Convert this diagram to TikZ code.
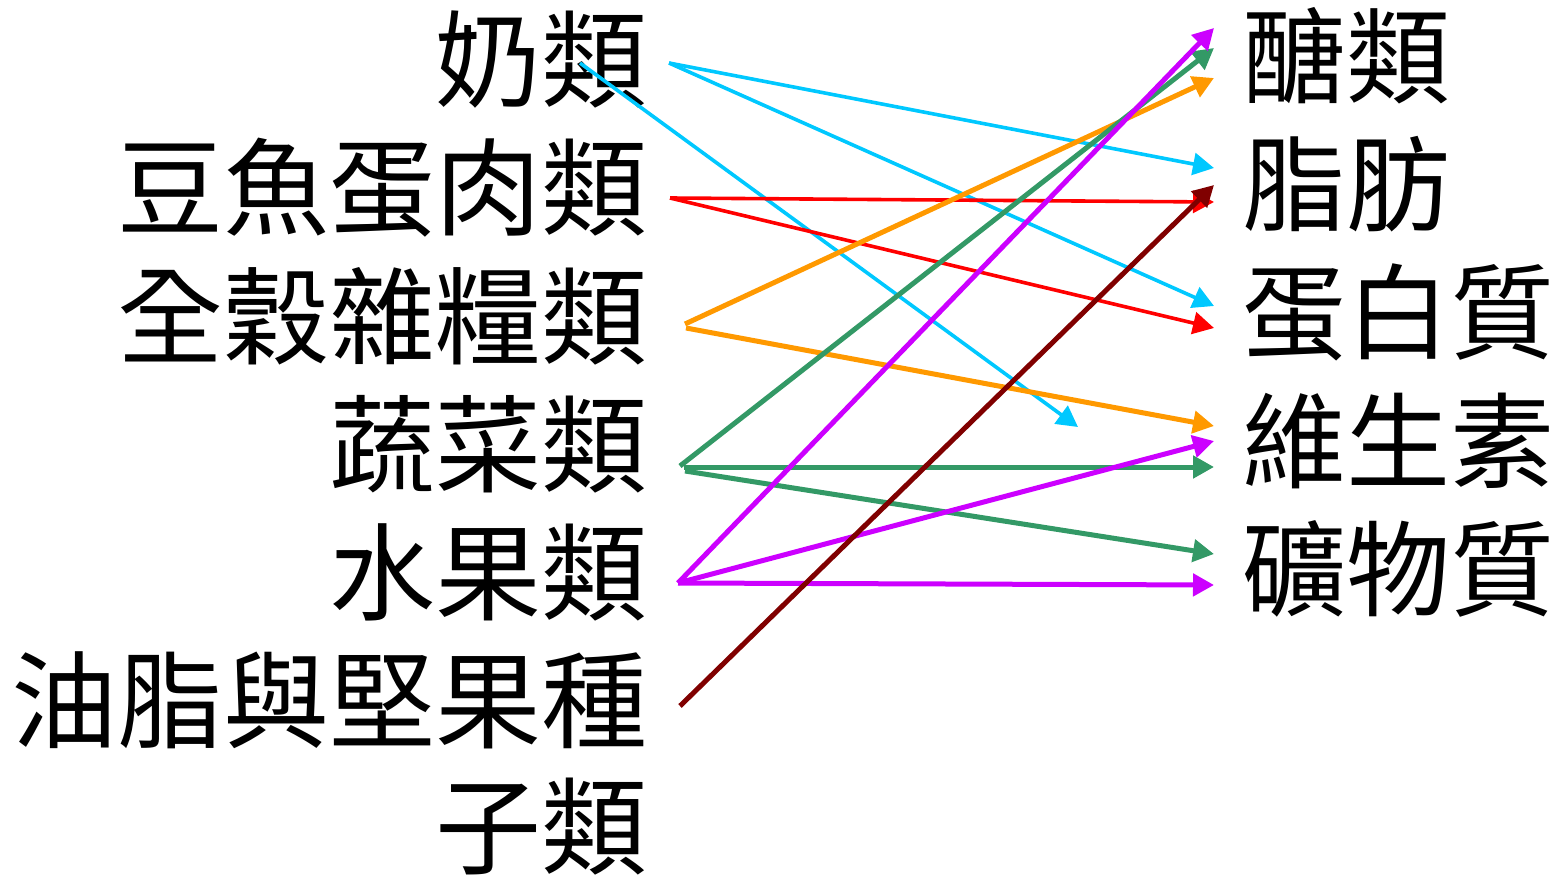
\documentclass[tikz,border=0pt]{standalone}
\usepackage{fontspec}
\setmainfont{Noto Sans CJK TC}
\usetikzlibrary{arrows.meta}
\definecolor{ccyan}{HTML}{00C8FF}
\definecolor{cred}{HTML}{FF0000}
\definecolor{corange}{HTML}{FF9900}
\definecolor{cgreen}{HTML}{339966}
\definecolor{cpurple}{HTML}{CC00FF}
\definecolor{cdark}{HTML}{800000}
\begin{document}
\begin{tikzpicture}[x=1pt,y=-1pt,
  llab/.style={inner sep=0pt,anchor=base east,font=\fontsize{106}{110}\selectfont},
  rlab/.style={inner sep=0pt,anchor=base west,font=\fontsize{104}{110}\selectfont},
  conn/.style={line width=5pt,-{Triangle[length=21pt,width=22pt]}},
  thin/.style={conn,line width=3.6pt}]
\useasboundingbox (0,0) rectangle (1564,877);
% left labels
\node[llab] (milk) at (648,100) {奶類};
\node[llab] (meat) at (648,228) {豆魚蛋肉類};
\node[llab] (grain) at (648,356) {全穀雜糧類};
\node[llab] (veg) at (648,484) {蔬菜類};
\node[llab] (fruit) at (648,612) {水果類};
\node[llab] (oil) at (648,740) {油脂與堅果種};
\node[llab] (oil2) at (648,866) {子類};
% right labels
\node[rlab] (carb) at (1242,96) {醣類};
\node[rlab] (fat) at (1242,224) {脂肪};
\node[rlab] (prot) at (1242,352) {蛋白質};
\node[rlab] (vit) at (1242,480) {維生素};
\node[rlab] (min) at (1242,608) {礦物質};
% start points
\coordinate (sMilk) at (669,63);
\coordinate (sMilkB) at (580,63);
\coordinate (sMeat) at (670,198);
\coordinate (sGrainA) at (685,324);
\coordinate (sGrainB) at (686,328);
\coordinate (sVegA) at (680,466);
\coordinate (sVegB) at (684,467);
\coordinate (sVegC) at (685,471);
\coordinate (sFruit) at (678,583);
\coordinate (sOil) at (680,706);
% end points
\coordinate (eCarbP) at (1214,28);
\coordinate (eCarbG) at (1214,48);
\coordinate (eCarbO) at (1214,78);
\coordinate (eFatC) at (1214,168);
\coordinate (eFatD) at (1214,185);
\coordinate (eFatR) at (1214,202);
\coordinate (eProtC) at (1214,306);
\coordinate (eProtR) at (1214,328);
\coordinate (eVitO) at (1214,426);
\coordinate (eVitP) at (1214,441);
\coordinate (eVitG) at (1214,467);
\coordinate (eMinG) at (1214,554);
\coordinate (eMinP) at (1214,585);
\coordinate (eFree) at (1078,427);
% connectors
\draw[thin,ccyan] (sMilk) -- (eFatC);
\draw[thin,ccyan] (sMilk) -- (eProtC);
\draw[thin,ccyan] (sMilkB) -- (eFree);
\draw[thin,cred] (sMeat) -- (eFatR);
\draw[thin,cred] (sMeat) -- (eProtR);
\draw[conn,corange] (sGrainA) -- (eCarbO);
\draw[conn,corange] (sGrainB) -- (eVitO);
\draw[conn,cgreen] (sVegA) -- (eCarbG);
\draw[conn,cgreen] (sVegB) -- (eVitG);
\draw[conn,cgreen] (sVegC) -- (eMinG);
\draw[conn,cpurple] (sFruit) -- (eCarbP);
\draw[conn,cpurple] (sFruit) -- (eVitP);
\draw[conn,cpurple] (sFruit) -- (eMinP);
\draw[conn,cdark] (sOil) -- (eFatD);
\end{tikzpicture}
\end{document}
